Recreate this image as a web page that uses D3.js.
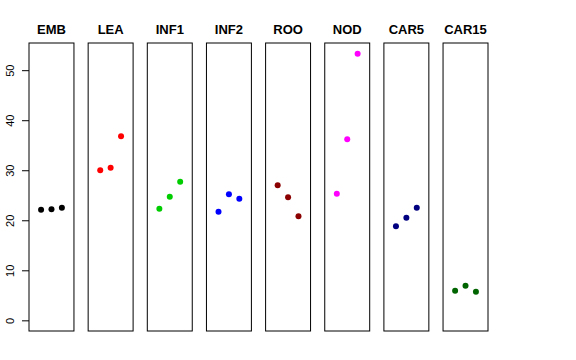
<!DOCTYPE html>
<html><head><meta charset="utf-8">
<script src="https://cdn.jsdelivr.net/npm/d3@7"></script>
<style>body{margin:0;background:#fff}svg{display:block}</style>
</head><body>
<script>
const categories = ["EMB","LEA","INF1","INF2","ROO","NOD","CAR5","CAR15"];
const colors = ["#000000","#FF0000","#00CD00","#0000FF","#8B0000","#FF00FF","#000080","#006400"];
const values = [
  [22.1, 22.2, 22.5],
  [30.0, 30.5, 36.8],
  [22.3, 24.7, 27.7],
  [21.7, 25.2, 24.3],
  [27.0, 24.6, 20.8],
  [25.3, 36.2, 53.3],
  [18.8, 20.5, 22.5],
  [5.9, 6.9, 5.7]
];
const yTicks = [0,10,20,30,40,50];

const W=576,H=360;
const svg=d3.select("body").append("svg").attr("width",W).attr("height",H);
const pTop=43, pBottom=331;
const y=d3.scaleLinear().domain([0-53.3*0.04,53.3*1.04]).range([pBottom,pTop]);
const panelX=d3.scaleBand().domain(categories).range([29,488]).paddingInner(0.24).paddingOuter(0);
const pw=panelX.bandwidth();
const font="Liberation Sans, Arial, Helvetica, sans-serif";

categories.forEach((c,i)=>{
  const x0=panelX(c);
  const g=svg.append("g");
  g.append("rect").attr("x",x0).attr("y",pTop).attr("width",pw).attr("height",pBottom-pTop)
    .attr("fill","none").attr("stroke","#000").attr("stroke-width",1);
  const x=d3.scaleLinear().domain([-0.16,4.16]).range([x0,x0+pw]);
  g.selectAll("circle").data(values[i]).join("circle")
    .attr("cx",(d,j)=>x(j+1)).attr("cy",d=>y(d)).attr("r",3).attr("fill",colors[i]);
  g.append("text").attr("x",x0+pw/2).attr("y",33.5).attr("text-anchor","middle")
    .attr("font-family",font).attr("font-weight","bold").attr("font-size",13).text(c);
});

const ax=svg.append("g").attr("transform",`translate(${panelX(categories[0])},0)`)
  .call(d3.axisLeft(y).tickValues(yTicks).tickSize(7).tickPadding(6));
ax.select(".domain").remove();
ax.selectAll(".tick line").attr("stroke","#000");
ax.selectAll("text").attr("font-family",font).attr("font-size",11).attr("fill","#000")
  .attr("text-anchor","middle").attr("x",0).attr("dy",0)
  .attr("transform","translate(-19,0) rotate(-90)").attr("y",0)
  .attr("dominant-baseline","central");
</script>
</body></html>
